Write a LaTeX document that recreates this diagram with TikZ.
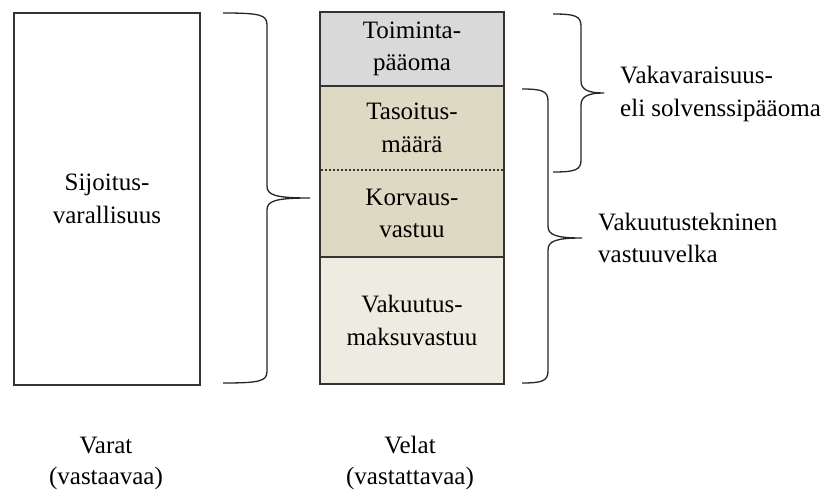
\documentclass[tikz,border=0pt]{standalone}
\usepackage{fontspec}
\setmainfont{Liberation Serif}
\definecolor{boxline}{HTML}{333333}
\definecolor{grayfill}{HTML}{D9D9D9}
\definecolor{tanfill}{HTML}{DDD9C3}
\definecolor{lightfill}{HTML}{EEECE1}
\newcommand\mybrace[6]{%
\draw[bracestyle] (#1,#4) .. controls (#2-6,#4) and (#2,#4+2) .. (#2,#4+12) -- (#2,#5-12) .. controls (#2,#5-3) and (#2+8,#5) .. (#3,#5) .. controls (#2+8,#5) and (#2,#5+3) .. (#2,#5+12) -- (#2,#6-12) .. controls (#2,#6-2) and (#2-6,#6) .. (#1,#6);}
\begin{document}
\begin{tikzpicture}[x=1pt,y=-1pt,
  txt/.style={font=\fontsize{25}{32.5}\selectfont, inner sep=0pt},
  sect/.style={txt, minimum width=184pt, align=center},
  box/.style={txt, draw=boxline, line width=2pt, align=center},
  solidline/.style={line width=2pt, draw=boxline},
  bracestyle/.style={line width=1.3pt, draw=black!85},
  lab/.style={txt, align=left, anchor=west},
  dotline/.style={line width=1.8pt, dash pattern=on 1.8pt off 2.2pt, draw=boxline}]
\useasboundingbox (0,0) rectangle (835,490);
\node[box, minimum width=186pt, minimum height=372pt, fill=white] (assets) at (107,199) {Sijoitus-\\varallisuus};
\node[sect, minimum height=74pt, fill=grayfill] (toim) at (412,49) {Toiminta-\\pääoma};
\node[sect, minimum height=84pt, fill=tanfill] (tas) at (412,128) {Tasoitus-\\määrä};
\node[sect, minimum height=87pt, fill=tanfill] (korv) at (412,213.5) {Korvaus-\\vastuu};
\node[sect, minimum height=127pt, fill=lightfill] (vak) at (412,320.5) {Vakuutus-\\maksuvastuu};
\draw[solidline] (toim.south west) -- (toim.south east);
\draw[solidline] (korv.south west) -- (korv.south east);
\draw[dotline] ([xshift=1pt]tas.south west) -- ([xshift=-1pt]tas.south east);
\draw[solidline] (toim.north west) rectangle (vak.south east);
\mybrace{223}{267}{310}{13}{198}{383}
\mybrace{553}{581}{604}{14}{93}{172}
\mybrace{522}{548}{582}{89}{238}{383}
\node[lab] (solv) at (620,94) {Vakavaraisuus-\\eli solvenssipääoma};
\node[lab] (tekn) at (598,238) {Vakuutustekninen\\vastuuvelka};
\node[txt, align=center, font=\fontsize{25}{31}\selectfont] (varat) at (106,463) {Varat\\(vastaavaa)};
\node[txt, align=center, font=\fontsize{25}{31}\selectfont] (velat) at (410,463) {Velat\\(vastattavaa)};
\end{tikzpicture}
\end{document}
